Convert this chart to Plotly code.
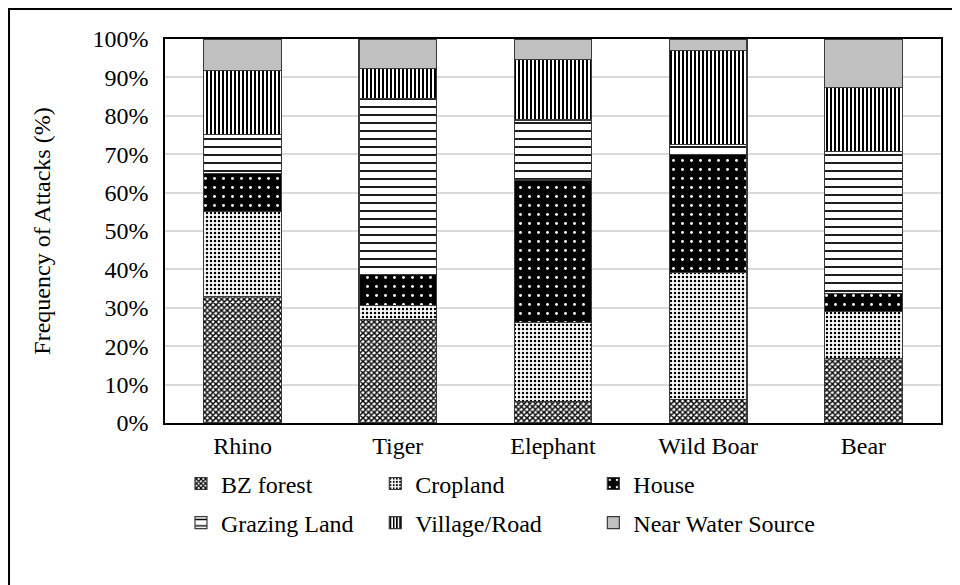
import plotly.graph_objects as go

animals = ["Rhino", "Tiger", "Elephant", "Wild Boar", "Bear"]

bz_forest = [33.0, 27.0, 5.5, 6.2, 16.8]
cropland = [22.0, 3.6, 20.6, 33.0, 12.2]
house = [10.0, 8.1, 37.2, 30.8, 4.8]
grazing_land = [10.2, 45.8, 15.6, 2.6, 37.0]
village_road = [16.7, 7.8, 15.8, 24.4, 16.6]
near_water = [8.1, 7.7, 5.3, 3.0, 12.6]

y_ticks = [0, 10, 20, 30, 40, 50, 60, 70, 80, 90, 100]
y_tick_labels = [f"{v}%" for v in y_ticks]

FONT = "Times New Roman, Liberation Serif, DejaVu Serif, serif"
FS = 24
OUTLINE = "#3a3a3a"

# name, values, pattern shape, fg, bg, size, solidity, legend column
series = [
    ("BZ forest", bz_forest, "x", "black", "white", 4, 0.6, "legend"),
    ("Cropland", cropland, ".", "black", "white", 4, 0.3, "legend2"),
    ("House", house, ".", "white", "black", 9, 0.08, "legend3"),
    ("Grazing Land", grazing_land, "-", "black", "white", 8, 0.22, "legend"),
    ("Village/Road", village_road, "|", "black", "white", 4, 0.5, "legend2"),
    ("Near Water Source", near_water, "", "#c0c0c0", "#c0c0c0", 8, 0.5, "legend3"),
]

fig = go.Figure()
for name, vals, shape, fg, bg, size, sol, leg in series:
    fig.add_trace(go.Bar(
        x=animals, y=vals, name=name, legend=leg, legendgroup=name,
        marker=dict(
            color=bg,
            line=dict(color=OUTLINE, width=1.2),
            pattern=dict(shape=shape, fgcolor=fg, bgcolor=bg, size=size,
                         solidity=sol, fillmode="replace"),
        ),
    ))

legend_style = dict(
    orientation="v", yanchor="top", y=-0.1, xanchor="left",
    font=dict(family=FONT, size=FS, color="black"),
    bgcolor="rgba(0,0,0,0)", tracegroupgap=5, traceorder="grouped",
)

# page body has an 8px margin, so the figure is 8px smaller each way
fig.update_layout(
    barmode="stack",
    bargap=0.5,
    width=952, height=577,
    margin=dict(l=157, r=19, t=31, b=162),
    paper_bgcolor="white",
    plot_bgcolor="white",
    font=dict(family=FONT, size=FS, color="black"),
    legend=dict(legend_style, x=0.0206),
    legend2=dict(legend_style, x=0.271),
    legend3=dict(legend_style, x=0.552),
    xaxis=dict(
        showline=True, mirror=True, linecolor="black", linewidth=1.5,
        ticks="", tickfont=dict(family=FONT, size=FS),
    ),
    yaxis=dict(
        range=[0, 100], tickvals=y_ticks, ticktext=y_tick_labels,
        showgrid=True, gridcolor="#d9d9d9", gridwidth=1.5,
        showline=True, mirror=True, linecolor="black", linewidth=1.5,
        ticks="", ticklabelstandoff=10, tickfont=dict(family=FONT, size=FS),
        title=dict(text="Frequency of Attacks (%)", standoff=35,
                   font=dict(family=FONT, size=FS)),
        zeroline=False,
    ),
)

# outer chart frame
fig.add_shape(type="rect", xref="paper", yref="paper",
              x0=-0.201, x1=1.1, y0=-0.5, y1=1.078,
              line=dict(color="black", width=2), fillcolor="rgba(0,0,0,0)",
              layer="below")

fig.write_html("out.html")
